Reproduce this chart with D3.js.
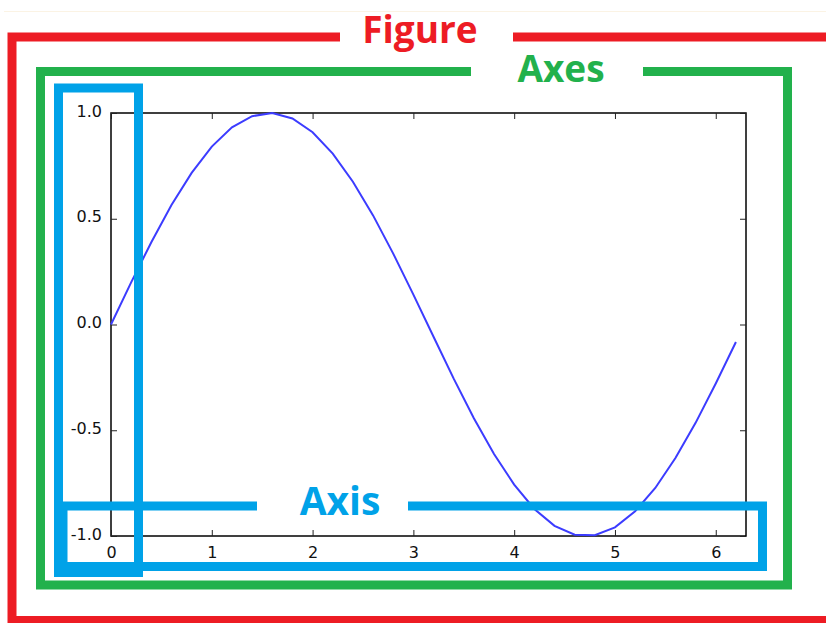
<!DOCTYPE html>
<html>
<head>
<meta charset="utf-8">
<script src="https://cdn.jsdelivr.net/npm/d3@7"></script>
<style>
  body { margin: 0; background: #fff; }
  svg { display: block; }
</style>
</head>
<body>
<div class="container"></div>
<script>
var xValues = [0, 0.2, 0.4, 0.6, 0.8, 1.0, 1.2, 1.4, 1.6, 1.8, 2.0, 2.2, 2.4, 2.6, 2.8, 3.0,
    3.2, 3.4, 3.6, 3.8, 4.0, 4.2, 4.4, 4.6, 4.8, 5.0, 5.2, 5.4, 5.6, 5.8, 6.0, 6.2];
var yValues = [0, 0.199, 0.389, 0.565, 0.717, 0.841, 0.932, 0.985, 1.000, 0.974, 0.909, 0.808,
    0.675, 0.516, 0.335, 0.141, -0.058, -0.256, -0.443, -0.612, -0.757, -0.872, -0.952,
    -0.994, -0.996, -0.959, -0.883, -0.773, -0.631, -0.465, -0.279, -0.083];
var xTicks = [0, 1, 2, 3, 4, 5, 6];
var yTicks = [1.0, 0.5, 0.0, -0.5, -1.0];
var yTickLabels = ['1.0', '0.5', '0.0', '-0.5', '-1.0'];

var drawChart = function () {
    var WIDTH = 826, HEIGHT = 623;
    var LEFT = 111, RIGHT = 746, TOP = 113, BOTTOM = 536;
    var RED = '#ED1C24', GREEN = '#22B14C', BLUE = '#00A2E8';

    var xScale = d3.scaleLinear().domain([0, 6.3]).range([LEFT, RIGHT]);
    var yScale = d3.scaleLinear().domain([-1, 1]).range([BOTTOM, TOP]);

    var svg = d3.select('.container').append('svg')
        .attr('width', WIDTH)
        .attr('height', HEIGHT);

    // faint border of the original screenshot
    svg.append('line')
        .attr('x1', 4).attr('x2', WIDTH).attr('y1', 11.5).attr('y2', 11.5)
        .attr('stroke', '#fbf3e4').attr('stroke-width', 1);

    // plot frame
    svg.append('rect')
        .attr('x', LEFT).attr('y', TOP)
        .attr('width', RIGHT - LEFT).attr('height', BOTTOM - TOP)
        .attr('fill', 'none').attr('stroke', '#000').attr('stroke-width', 1.5);

    // x axis (bottom) with inward ticks, plus mirrored ticks on top
    var xAxis = d3.axisBottom(xScale).tickValues(xTicks).tickSize(-6).tickPadding(11)
        .tickFormat(d3.format('d'));
    var gx = svg.append('g').attr('transform', 'translate(0,' + BOTTOM + ')').call(xAxis);
    var xTop = d3.axisTop(xScale).tickValues(xTicks).tickSize(-6).tickFormat('');
    var gxt = svg.append('g').attr('transform', 'translate(0,' + TOP + ')').call(xTop);

    var yAxis = d3.axisLeft(yScale).tickValues(yTicks).tickSize(-6).tickPadding(9)
        .tickFormat(function (d, i) { return yTickLabels[i]; });
    var gy = svg.append('g').attr('transform', 'translate(' + LEFT + ',0)').call(yAxis);
    var yRight = d3.axisRight(yScale).tickValues(yTicks).tickSize(-6).tickFormat('');
    var gyr = svg.append('g').attr('transform', 'translate(' + RIGHT + ',0)').call(yRight);

    [gx, gxt, gy, gyr].forEach(function (g) {
        g.select('.domain').remove();
        g.selectAll('.tick line').attr('stroke', '#222').attr('stroke-width', 1);
        g.selectAll('.tick text')
            .attr('font-family', 'DejaVu Sans')
            .attr('font-size', 16)
            .attr('fill', '#111');
    });
    gy.selectAll('.tick text').attr('dy', '0.2em');

    // sine line
    var line = d3.line()
        .x(function (d, i) { return xScale(xValues[i]); })
        .y(function (d) { return yScale(d); });

    svg.append('path')
        .attr('d', line(yValues))
        .attr('fill', 'none')
        .attr('stroke', '#3c3cff')
        .attr('stroke-width', 2);

    // annotation boxes, each with a gap in one side for its label
    function box(points, color) {
        svg.append('path')
            .attr('d', d3.line()(points))
            .attr('fill', 'none')
            .attr('stroke', color)
            .attr('stroke-width', 9)
            .attr('stroke-linejoin', 'miter');
    }
    function label(txt, x, y, color, size) {
        svg.append('text')
            .attr('x', x).attr('y', y)
            .attr('text-anchor', 'middle')
            .attr('font-family', 'Open Sans')
            .attr('font-weight', 700)
            .attr('font-size', size)
            .attr('fill', color)
            .text(txt);
    }

    // Figure
    box([[340, 37], [12, 37], [12, 632]], RED);
    box([[513, 37], [840, 37]], RED);
    box([[12, 620.5], [840, 620.5]], RED);
    label('Figure', 420, 43, RED, 37);

    // Axes
    box([[471, 71.5], [40.5, 71.5], [40.5, 585], [787.5, 585], [787.5, 71.5], [643, 71.5]], GREEN);
    label('Axes', 561, 82, GREEN, 37);

    // Axis (y)
    box([[58.5, 88], [138.5, 88], [138.5, 572.5], [58.5, 572.5], [58.5, 83.5]], BLUE);
    // Axis (x)
    box([[257, 506], [63, 506], [63, 566.5], [762.5, 566.5], [762.5, 506], [408, 506]], BLUE);
    label('Axis', 340, 515, BLUE, 39);
};

window.onload = drawChart;
</script>
</body>
</html>
